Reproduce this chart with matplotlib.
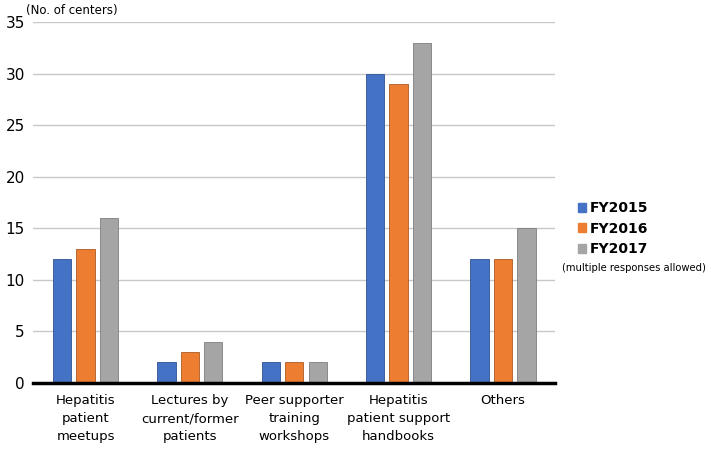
import numpy as np
import matplotlib.pyplot as plt
from matplotlib.patches import Patch

categories = ['Hepatitis\npatient\nmeetups', 'Lectures by\ncurrent/former\npatients',
              'Peer supporter\ntraining\nworkshops', 'Hepatitis\npatient support\nhandbooks', 'Others']
series = ['FY2015', 'FY2016', 'FY2017']
fy2015 = [12, 2, 2, 30, 12]
fy2016 = [13, 3, 2, 29, 12]
fy2017 = [16, 4, 2, 33, 15]
colors = ['#4472C4', '#ED7D31', '#A5A5A5']
edges = ['#2F528F', '#AE5A21', '#7F7F7F']

fig = plt.figure(figsize=(7.09, 4.5), dpi=100)
ax = fig.add_axes([0.047, 0.149, 0.736, 0.802])

x = np.arange(len(categories))
width = 0.175
step = 0.225
for i, vals in enumerate([fy2015, fy2016, fy2017]):
    ax.bar(x + (i - 1) * step, vals, width, color=colors[i],
           edgecolor=edges[i], linewidth=0.6, zorder=3)

ax.set_xlim(-0.5, 4.5)
ax.set_ylim(0, 35)
ax.set_yticks(range(0, 36, 5))
ax.tick_params(axis='y', length=0, labelsize=11, pad=6)
ax.tick_params(axis='x', length=0, labelsize=9.5, pad=8)
ax.set_xticks(x)
ax.set_xticklabels(categories, linespacing=1.5)
ax.yaxis.grid(True, color='#C8C8C8', linewidth=1, zorder=0)
for s in ['top', 'right', 'left']:
    ax.spines[s].set_visible(False)
ax.spines['bottom'].set_linewidth(2.5)
ax.spines['bottom'].set_zorder(4)

fig.text(0.036, 0.992, '(No. of centers)', fontsize=8.5, ha='left', va='top')

handles = [Patch(facecolor=c, edgecolor=c) for c in colors]
fig.legend(handles, series, loc='upper left', bbox_to_anchor=(0.797, 0.58),
           frameon=False, prop={'weight': 'bold', 'size': 10},
           handlelength=0.6, handleheight=0.6, handletextpad=0.3, labelspacing=0.45)
fig.text(0.793, 0.405, '(multiple responses allowed)', fontsize=7.2, ha='left', va='center')

fig.savefig('out.png', dpi=100)
